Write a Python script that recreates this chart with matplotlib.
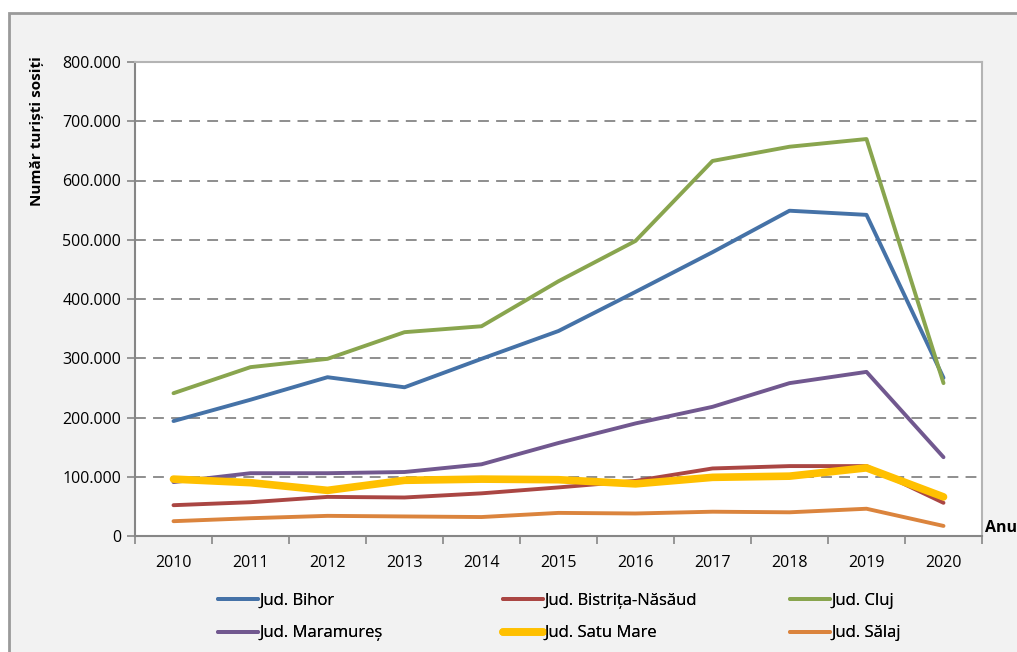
import matplotlib
matplotlib.use("Agg")
import matplotlib.pyplot as plt
from matplotlib.patches import Rectangle
from matplotlib.ticker import FuncFormatter, FixedLocator

plt.rcParams["font.family"] = ["Open Sans", "DejaVu Sans"]

years = [2010, 2011, 2012, 2013, 2014, 2015, 2016, 2017, 2018, 2019, 2020]

bihor = [194000, 230000, 268000, 251000, 299000, 346000, 412000, 479000, 549000, 542000, 267000]
bistrita = [52000, 57000, 66000, 65000, 72000, 82000, 93000, 114000, 118000, 118000, 56000]
cluj = [241000, 285000, 299000, 344000, 354000, 430000, 498000, 633000, 657000, 670000, 258000]
maramures = [91000, 106000, 106000, 108000, 121000, 157000, 190000, 218000, 258000, 277000, 133000]
satu_mare = [96000, 90000, 77000, 94000, 96000, 95000, 88000, 99000, 101000, 115000, 66000]
salaj = [25000, 30000, 34000, 33000, 32000, 39000, 38000, 41000, 40000, 46000, 17000]

series = [
    ("Jud. Bihor", bihor, "#4572A7", 2.8),
    ("Jud. Bistrița-Năsăud", bistrita, "#AA4643", 2.8),
    ("Jud. Cluj", cluj, "#89A54E", 2.8),
    ("Jud. Maramureș", maramures, "#71588F", 2.8),
    ("Jud. Satu Mare", satu_mare, "#FFC000", 5.5),
    ("Jud. Sălaj", salaj, "#DB843D", 2.8),
]

fig = plt.figure(figsize=(10.17, 6.52), dpi=100)
fig.patch.set_facecolor("white")
# chart area panel with border, kept behind the axes
panel = Rectangle((9 / 1017, -0.05), 1.1, 1 - 13 / 652 + 0.05,
                  transform=fig.transFigure, facecolor="#f2f2f2",
                  edgecolor="#9a9a9a", linewidth=2, zorder=-10)
fig.patches.append(panel)

ax = fig.add_axes([135 / 1017, 1 - 536 / 652, (982 - 135) / 1017, (536 - 62) / 652])
ax.set_zorder(1)
ax.set_facecolor("white")

x = list(range(len(years)))
for name, vals, color, lw in series:
    ax.plot(x, vals, color=color, linewidth=lw, label=name,
            solid_joinstyle="round", solid_capstyle="round", zorder=3)

ax.set_xlim(-0.5, len(years) - 0.5)
ax.set_ylim(0, 800000)
ax.set_yticks(range(0, 800001, 100000))
ax.yaxis.set_major_formatter(FuncFormatter(
    lambda v, _: "0" if v == 0 else f"{int(v):,}".replace(",", ".")))
ax.set_xticks(x)
ax.set_xticklabels([str(y) for y in years])
ax.xaxis.set_minor_locator(FixedLocator([i - 0.5 for i in range(len(years) + 1)]))
ax.tick_params(axis="x", which="major", length=0, pad=14, labelsize=11.5, colors="#000000")
ax.tick_params(axis="x", which="minor", length=6, width=1.2, color="#868686", direction="out")
ax.tick_params(axis="y", length=6, width=1.2, color="#868686", labelsize=11.5, pad=4)

for v in range(100000, 800000, 100000):
    ax.axhline(v, color="#868686", linewidth=1.3, linestyle=(0, (6, 4)), zorder=1)

for side in ("left", "bottom"):
    ax.spines[side].set_color("#868686")
    ax.spines[side].set_linewidth(1.5)
for side in ("top", "right"):
    ax.spines[side].set_color("#b4b4b4")
    ax.spines[side].set_linewidth(1.5)

fig.text(37 / 1017, 1 - 131 / 652, "Număr turiști sosiți", rotation=90,
         ha="center", va="center", fontsize=11, fontweight="bold")
fig.text(985 / 1017, 1 - 528 / 652, "Anu", ha="left", va="center",
         fontsize=11.5, fontweight="bold")

# legend: three columns of two entries, each column placed on its own
handles, labels = ax.get_legend_handles_labels()
col_x = [218, 503, 790]
for c, left in enumerate(col_x):
    idx = [c, c + 3]
    leg = fig.legend([handles[i] for i in idx], [labels[i] for i in idx],
                     ncol=1, loc="center left",
                     bbox_to_anchor=(left / 1017, 1 - 617 / 652),
                     frameon=False, fontsize=12, handlelength=2.4,
                     handletextpad=0.1, labelspacing=1.0,
                     borderpad=0, borderaxespad=0)
    fig.add_artist(leg)

fig.savefig("out.png", dpi=100)
